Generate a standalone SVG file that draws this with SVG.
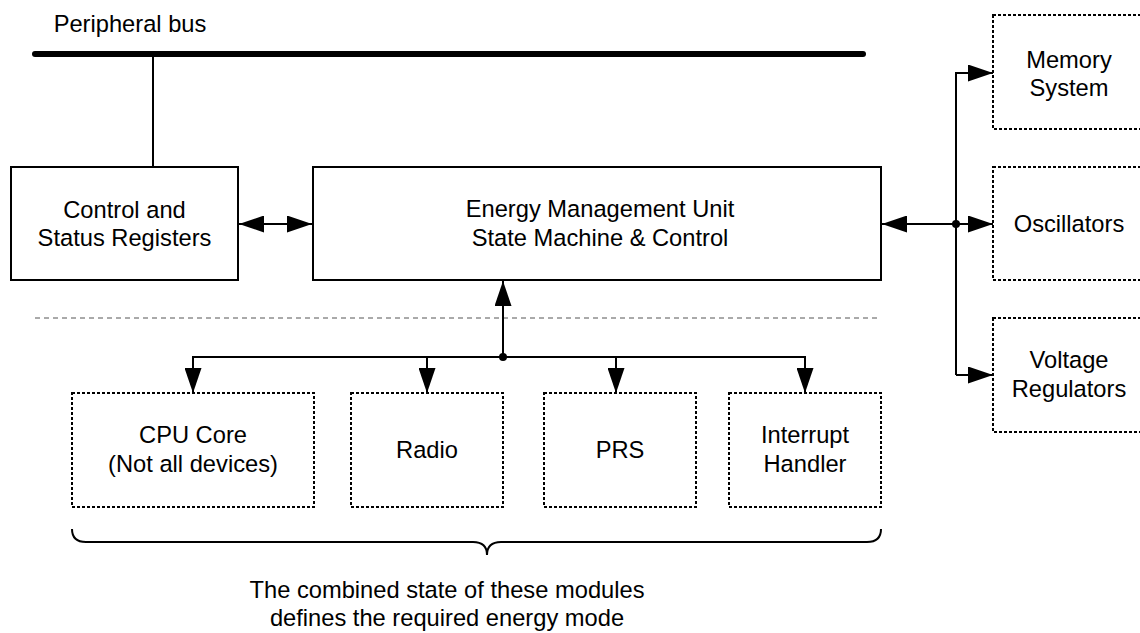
<svg xmlns="http://www.w3.org/2000/svg" width="1140" height="633" viewBox="0 0 1140 633">
<style>
  text { font-family: "Liberation Sans", Arial, sans-serif; font-size: 23.7px; fill: #000; text-anchor: middle; }
  .solid { fill: #fff; stroke: #000; stroke-width: 2; }
  .dotted { fill: #fff; stroke: #000; stroke-width: 2; stroke-dasharray: 3 2; }
  .wire { fill: none; stroke: #000; stroke-width: 2; }
  .arrow { fill: none; stroke: #000; stroke-width: 2; marker-end: url(#ah); }
  .darrow { fill: none; stroke: #000; stroke-width: 2; marker-end: url(#ah); marker-start: url(#ah); }
</style>
<defs>
  <marker id="ah" markerUnits="userSpaceOnUse" markerWidth="25" markerHeight="17" refX="25" refY="8.5" orient="auto-start-reverse">
    <path d="M0,0 L25,8.5 L0,17 z" fill="#000"/>
  </marker>
</defs>
<rect width="1140" height="633" fill="#fff"/>

<g id="bus">
  <line x1="35" y1="54" x2="863" y2="54" stroke="#000" stroke-width="6" stroke-linecap="round"/>
  <text x="130" y="32">Peripheral bus</text>
</g>

<g id="separator">
  <line x1="35" y1="318" x2="881" y2="318" stroke="#555" stroke-width="1" stroke-dasharray="5 4"/>
</g>

<g id="connectors">
  <line class="wire" x1="153" y1="55" x2="153" y2="167"/>
  <line class="darrow" x1="239" y1="224" x2="312" y2="224"/>
  <line class="arrow" x1="956" y1="224" x2="882" y2="224"/>
  <path class="wire" d="M993,73 L956,73 L956,375"/>
  <line class="arrow" x1="956" y1="73" x2="993" y2="73"/>
  <line class="arrow" x1="956" y1="224" x2="993" y2="224"/>
  <line class="arrow" x1="956" y1="375" x2="993" y2="375"/>
  <circle cx="956" cy="224" r="4" fill="#000"/>
  <line class="arrow" x1="503" y1="357" x2="503" y2="281"/>
  <path class="wire" d="M193,368 L193,357 L805,357 L805,368"/>
  <line class="arrow" x1="193" y1="357" x2="193" y2="393"/>
  <line class="arrow" x1="427" y1="357" x2="427" y2="393"/>
  <line class="arrow" x1="616" y1="357" x2="616" y2="393"/>
  <line class="arrow" x1="805" y1="357" x2="805" y2="393"/>
  <circle cx="503" cy="357" r="4" fill="#000"/>
</g>

<g id="csr">
  <rect class="solid" x="11" y="167" width="227" height="113"/>
  <text x="124.5" y="218">Control and</text>
  <text x="124.5" y="246">Status Registers</text>
</g>

<g id="emu">
  <rect class="solid" x="313" y="167" width="568" height="113"/>
  <text x="600" y="217">Energy Management Unit</text>
  <text x="600" y="246">State Machine &amp; Control</text>
</g>

<g id="memory">
  <rect class="dotted" x="993" y="15" width="160" height="114"/>
  <text x="1069" y="68">Memory</text>
  <text x="1069" y="96">System</text>
</g>

<g id="oscillators">
  <rect class="dotted" x="993" y="167" width="160" height="113"/>
  <text x="1069" y="232">Oscillators</text>
</g>

<g id="regulators">
  <rect class="dotted" x="993" y="318" width="160" height="114"/>
  <text x="1069" y="368">Voltage</text>
  <text x="1069" y="397">Regulators</text>
</g>

<g id="cpu">
  <rect class="dotted" x="72" y="393" width="242" height="114"/>
  <text x="193" y="443">CPU Core</text>
  <text x="193" y="472">(Not all devices)</text>
</g>

<g id="radio">
  <rect class="dotted" x="351" y="393" width="152" height="114"/>
  <text x="427" y="458">Radio</text>
</g>

<g id="prs">
  <rect class="dotted" x="544" y="393" width="152" height="114"/>
  <text x="620" y="458">PRS</text>
</g>

<g id="interrupt">
  <rect class="dotted" x="729" y="393" width="152" height="114"/>
  <text x="805" y="443">Interrupt</text>
  <text x="805" y="472">Handler</text>
</g>

<g id="brace">
  <path class="wire" d="M72,529 Q72,542 86,542 L473,542 Q487,542 487,555 Q487,542 501,542 L867,542 Q881,542 881,529"/>
  <text x="447" y="598">The combined state of these modules</text>
  <text x="447" y="626">defines the required energy mode</text>
</g>
</svg>
